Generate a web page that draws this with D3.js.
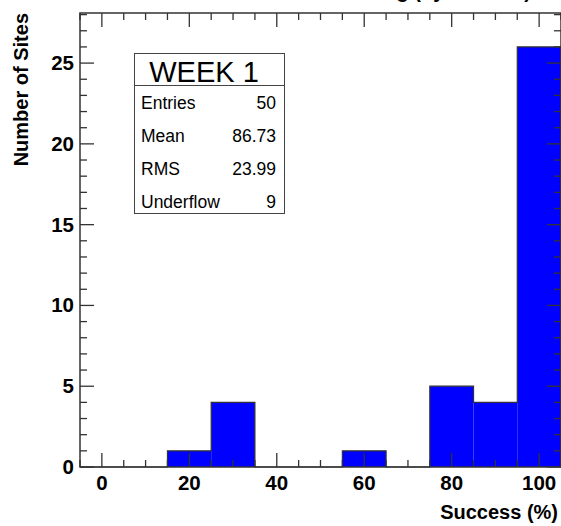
<!DOCTYPE html>
<html>
<head>
<meta charset="UTF-8">
<script src="https://d3js.org/d3.v7.min.js"></script>
<style>
  body { margin: 0; background: #fff; }
  text { font-family: "Liberation Sans", Arial, Helvetica, sans-serif; }
  .tick-label { font-size: 20.5px; font-weight: bold; fill: #000; }
  .axis-title { font-size: 20px; font-weight: bold; fill: #000; }
  .stats text { font-size: 17.5px; fill: #000; }
</style>
</head>
<body>
<svg width="561" height="526"></svg>
<script>
// histogram: bin centres (Success %) and counts per bin
var binCentres = [0, 10, 20, 30, 40, 50, 60, 70, 80, 90, 100];
var counts     = [0, 0, 1, 4, 0, 0, 1, 0, 5, 4, 26];
var binWidth = 10;

// tick values
var xMajor = [0, 20, 40, 60, 80, 100];
var yMajor = [0, 5, 10, 15, 20, 25];

// stats box
var statNames  = ["Entries", "Mean", "RMS", "Underflow"];
var statValues = ["50", "86.73", "23.99", "9"];
var boxTitle = "WEEK 1";

var svg = d3.select("svg");

var x = d3.scaleLinear().domain([-5, 105]).range([80, 561]);
var y = d3.scaleLinear().domain([0, 28.1]).range([467, 13]);

var xMinor = d3.range(-5, 106, 5);
var yMinor = d3.range(0, 29, 1);

// title (sits above the picture, only descenders show)
svg.append("text")
  .attr("class", "axis-title")
  .attr("x", 531).attr("y", -2)
  .attr("text-anchor", "end")
  .text("Site Ranking (by all tests)");

// bars, no outline between neighbours
svg.append("g").selectAll("rect")
  .data(binCentres)
  .enter().append("rect")
  .attr("x", function(d) { return x(d - binWidth / 2); })
  .attr("width", function(d) { return x(d + binWidth / 2) - x(d - binWidth / 2); })
  .attr("y", function(d, i) { return y(counts[i]); })
  .attr("height", function(d, i) { return y(0) - y(counts[i]); })
  .attr("fill", "#0000ff");

// histogram step outline
var pts = [[x.domain()[0], 0]];
binCentres.forEach(function(c, i) {
  pts.push([c - binWidth / 2, counts[i]]);
  pts.push([c + binWidth / 2, counts[i]]);
});
pts.push([x.domain()[1], 0]);
var line = d3.line()
  .x(function(d) { return x(d[0]); })
  .y(function(d) { return y(d[1]); });
svg.append("path")
  .attr("d", line(pts))
  .attr("fill", "none")
  .attr("stroke", "#333")
  .attr("stroke-width", 1.2);

// ticks on all four sides, pointing inward
var tickCol = "#333";
var ticks = svg.append("g").attr("stroke", tickCol).attr("stroke-width", 1.3);
xMinor.forEach(function(v) {
  var len = xMajor.indexOf(v) >= 0 ? 14 : 7;
  ticks.append("line").attr("x1", x(v)).attr("x2", x(v))
    .attr("y1", y.range()[0]).attr("y2", y.range()[0] - len);
  ticks.append("line").attr("x1", x(v)).attr("x2", x(v))
    .attr("y1", y.range()[1]).attr("y2", y.range()[1] + len);
});
yMinor.forEach(function(v) {
  var len = yMajor.indexOf(v) >= 0 ? 14 : 7;
  ticks.append("line").attr("y1", y(v)).attr("y2", y(v))
    .attr("x1", x.range()[0]).attr("x2", x.range()[0] + len);
  ticks.append("line").attr("y1", y(v)).attr("y2", y(v))
    .attr("x1", x.range()[1]).attr("x2", x.range()[1] - len);
});

// frame
svg.append("rect")
  .attr("x", x.range()[0]).attr("y", y.range()[1])
  .attr("width", x.range()[1] - x.range()[0])
  .attr("height", y.range()[0] - y.range()[1])
  .attr("fill", "none").attr("stroke", "#333").attr("stroke-width", 1.5);

// tick labels
svg.append("g").selectAll("text")
  .data(xMajor).enter().append("text")
  .attr("class", "tick-label")
  .attr("x", function(d) { return x(d); })
  .attr("y", 490)
  .attr("text-anchor", "middle")
  .text(function(d) { return d; });

svg.append("g").selectAll("text")
  .data(yMajor).enter().append("text")
  .attr("class", "tick-label")
  .attr("x", 74)
  .attr("y", function(d) { return y(d) + 7; })
  .attr("text-anchor", "end")
  .text(function(d) { return d; });

// axis titles
svg.append("text")
  .attr("class", "axis-title")
  .attr("x", 558).attr("y", 519)
  .attr("text-anchor", "end")
  .text("Success (%)");

svg.append("text")
  .attr("class", "axis-title")
  .attr("transform", "translate(28,13) rotate(-90)")
  .attr("text-anchor", "end")
  .text("Number of Sites");

// stats box
var box = svg.append("g").attr("class", "stats");
box.append("rect")
  .attr("x", 134.5).attr("y", 53.5).attr("width", 150).attr("height", 160)
  .attr("fill", "#fff").attr("stroke", "#444").attr("stroke-width", 1);
box.append("line")
  .attr("x1", 134.5).attr("x2", 284.5).attr("y1", 85.5).attr("y2", 85.5)
  .attr("stroke", "#444");
box.append("text")
  .attr("x", 204).attr("y", 82)
  .attr("text-anchor", "middle")
  .style("font-size", "29px")
  .text(boxTitle);
statNames.forEach(function(n, i) {
  var yy = 109 + i * 33;
  box.append("text").attr("x", 141).attr("y", yy).text(n);
  box.append("text").attr("x", 276).attr("y", yy)
    .attr("text-anchor", "end").text(statValues[i]);
});
</script>
</body>
</html>
